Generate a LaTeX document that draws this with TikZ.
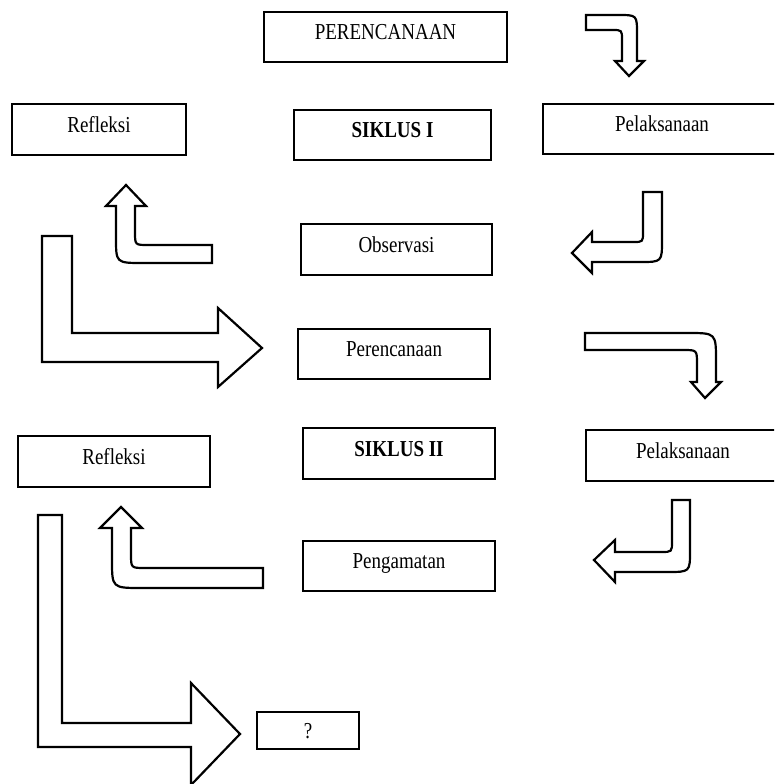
\documentclass[tikz,border=0pt]{standalone}
\usepackage{graphicx}
\usepackage{fontspec}
\setmainfont{Liberation Serif}
\newcommand{\tall}[1]{\scalebox{1}[1.2]{#1}}

\begin{document}
\begin{tikzpicture}[x=1pt, y=-1pt,
  stage/.style={draw, line width=2.4pt, inner sep=0pt, text height=15pt, text depth=10pt, font=\fontsize{19}{22}\selectfont},
  bigarrow/.style={draw, line width=2.2pt, fill=white}]
\path[use as bounding box] (0,0) rectangle (774,784);
\clip (0,0) rectangle (774,784);

% siklus I
\node[stage, minimum width=243pt, minimum height=50pt] (plan1) at (385.5,37) {\tall{PERENCANAAN}};
\node[stage, minimum width=197pt, minimum height=50pt] (siklus1) at (392.5,135) {\tall{\textbf{SIKLUS I}}};
\node[stage, minimum width=174pt, minimum height=51pt] (refl1) at (99,129.5) {\tall{Refleksi}};
\node[stage, minimum width=238pt, minimum height=50pt] (pel1) at (662,129) {\tall{Pelaksanaan}};
\node[stage, minimum width=191pt, minimum height=51pt] (obs1) at (396.5,249.5) {\tall{Observasi}};

% siklus II
\node[stage, minimum width=192pt, minimum height=50pt] (plan2) at (394,354) {\tall{Perencanaan}};
\node[stage, minimum width=192pt, minimum height=51pt] (siklus2) at (399,453.5) {\tall{\textbf{SIKLUS II}}};
\node[stage, minimum width=192pt, minimum height=51pt] (refl2) at (114,461.5) {\tall{Refleksi}};
\node[stage, minimum width=194pt, minimum height=51pt] (pel2) at (683,455.5) {\tall{Pelaksanaan}};
\node[stage, minimum width=192pt, minimum height=50pt] (peng2) at (399,566) {\tall{Pengamatan}};
\node[stage, text depth=0pt, minimum width=102pt, minimum height=37pt] (next) at (308,730.5) {\tall{?}};

% block arrows
\draw[bigarrow] (586,15) -- (618,15) .. controls (637,15) .. (637,34) -- (637,61) -- (644,61) -- (629,76)
  -- (615,61) -- (622,61) -- (622,40) .. controls (622,30) .. (612,30) -- (586,30) -- cycle;
\draw[bigarrow] (643,192) -- (662,192) -- (662,240) .. controls (662,262) .. (640,262) -- (592,262) -- (592,273)
  -- (572,253) -- (592,232) -- (592,242) -- (633,242) .. controls (643,242) .. (643,232) -- cycle;
\draw[bigarrow] (212,245) -- (148,245) .. controls (135,245) .. (135,232) -- (135,206) -- (146,206) -- (126,185)
  -- (106,206) -- (116,206) -- (116,238) .. controls (116,263) .. (143,263) -- (212,263) -- cycle;
\draw[bigarrow] (42,236) -- (72,236) -- (72,333) -- (218,333) -- (218,308) -- (262,348) -- (218,387)
  -- (218,362) -- (42,362) -- cycle;
\draw[bigarrow] (585,333) -- (688,333) .. controls (716,333) .. (716,361) -- (716,382) -- (721,382) -- (705,398)
  -- (691,382) -- (697,382) -- (697,364) .. controls (697,350) .. (683,350) -- (585,350) -- cycle;
\draw[bigarrow] (672,500) -- (690,500) -- (690,551) .. controls (690,572) .. (667,572) -- (615,572) -- (615,582)
  -- (594,560) -- (615,540) -- (615,552) -- (661,552) .. controls (672,552) .. (672,541) -- cycle;
\draw[bigarrow] (263,568) -- (145,568) .. controls (131,568) .. (131,554) -- (131,528) -- (142,528) -- (121,507)
  -- (100,528) -- (112,528) -- (112,560) .. controls (112,588) .. (142,588) -- (263,588) -- cycle;
\draw[bigarrow] (38,515) -- (62,515) -- (62,723) -- (191,723) -- (191,683) -- (240,734) -- (191,785)
  -- (191,747) -- (38,747) -- cycle;
\end{tikzpicture}
\end{document}
